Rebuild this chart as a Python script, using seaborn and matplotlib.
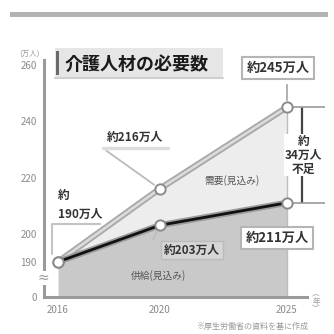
import matplotlib
matplotlib.use("Agg")
import matplotlib.pyplot as plt
import seaborn as sns
import pandas as pd
from matplotlib.patches import Rectangle
from matplotlib.lines import Line2D

years = [2016, 2020, 2025]
demand = [190, 216, 245]
supply = [190, 203, 211]
y_ticks = [190, 200, 220, 240, 260]
y_minor = [210, 230, 250]
x_ticks = [2016, 2020, 2025]
title = "介護人材の必要数"
ZERO_POS = 177.5  # where the broken axis shows "0"

sns.set_theme(style="white")
plt.rcParams["font.family"] = ["Noto Sans CJK JP", "DejaVu Sans"]

df = pd.DataFrame({"year": years, "demand": demand, "supply": supply})

W = 334
fig = plt.figure(figsize=(3.34, 3.34), dpi=100)
fig.patch.set_facecolor("white")

def fx(px):
    return px / W

def fy(py):
    return 1 - py / W

ax = fig.add_axes([fx(43.5), fy(297), fx(307 - 43.5), (297 - 60) / W])
ax.set_xlim(2015.43, 2025.79)
ax.set_ylim(ZERO_POS, 261.8)

# areas
ax.fill_between(df["year"], ZERO_POS, df["supply"], color="#c9c9c9", lw=0, zorder=1)
ax.fill_between(df["year"], df["supply"], df["demand"], color="#ededed", lw=0, zorder=1)
ax.vlines(years[-1], ZERO_POS, demand[-1], color="#bdbdbd", lw=1, zorder=1)

# lines
sns.lineplot(data=df, x="year", y="demand", ax=ax, color="#a9a9a9", lw=4.5, zorder=3)
sns.lineplot(data=df, x="year", y="demand", ax=ax, color="#dcdcdc", lw=1.8, zorder=3)
sns.lineplot(data=df, x="year", y="supply", ax=ax, color="#9a9a9a", lw=4.5, zorder=3)
sns.lineplot(data=df, x="year", y="supply", ax=ax, color="#111111", lw=2.0, zorder=3)
for col in ["demand", "supply"]:
    sns.scatterplot(data=df, x="year", y=col, ax=ax, s=55, color="white",
                    edgecolor="#8a8a8a", linewidth=1.4, zorder=5, legend=False)

# axes styling
for s in ["top", "right"]:
    ax.spines[s].set_visible(False)
for s in ["left", "bottom"]:
    ax.spines[s].set_color("#9a9a9a")
    ax.spines[s].set_linewidth(2.2)
ax.set_xlabel("")
ax.set_ylabel("")
ax.set_yticks([ZERO_POS] + y_ticks)
ax.set_yticklabels(["0"] + [str(v) for v in y_ticks])
ax.set_yticks(y_minor, minor=True)
ax.set_xticks(x_ticks)
ax.set_xticklabels([str(v) for v in x_ticks])
ax.set_xticks(list(range(2016, 2026)), minor=True)
ax.tick_params(axis="both", which="both", direction="inout", color="#9a9a9a",
               width=1.3, labelcolor="#8a8a8a", labelsize=7)
ax.tick_params(axis="both", which="major", length=6)
ax.tick_params(axis="both", which="minor", length=5)
ax.tick_params(axis="y", pad=2)
ax.tick_params(axis="x", pad=3)
ax.grid(False)

# axis break mark
ax.text(2015.43, 184.3, "≈", ha="center", va="center", fontsize=10, color="#9a9a9a",
        family=["DejaVu Sans"], bbox=dict(fc="white", ec="none", pad=0.2), zorder=6,
        clip_on=False)

# units
fig.text(fx(30), fy(54), "(万人)", ha="center", va="center", fontsize=5.5, color="#9a9a9a")
fig.text(fx(316), fy(302), "︵\n年\n︶", ha="center", va="center", fontsize=5.5,
         color="#9a9a9a", linespacing=0.9)
fig.text(fx(253), fy(326), "※厚生労働省の資料を基に作成", ha="center", va="center",
         fontsize=5.8, color="#9a9a9a")

# top decoration bar
fig.add_artist(Rectangle((fx(10), fy(17)), fx(318), 5 / W, transform=fig.transFigure,
                         fc="#b3b3b3", ec="none"))

# title box
fig.add_artist(Rectangle((fx(55), fy(78)), fx(168), 30 / W, transform=fig.transFigure,
                         fc="#e6e6e6", ec="none"))
fig.add_artist(Line2D([fx(55), fx(223)], [fy(78), fy(78)], transform=fig.transFigure,
                      color="#cfcfcf", lw=1.5))
fig.add_artist(Rectangle((fx(56), fy(75)), fx(3), 24 / W, transform=fig.transFigure,
                         fc="#6a6a6a", ec="none"))
fig.text(fx(65), fy(64), title, ha="left", va="center", fontsize=13,
         fontweight="bold", color="#1a1a1a")

lab_kw = dict(ha="center", va="center", color="#333333", fontweight="bold")

# 245 box
ax.annotate("", xy=(years[2], demand[2]), xytext=(fx(287), fy(82)),
            textcoords="figure fraction",
            arrowprops=dict(arrowstyle="-", color="#aaaaaa", lw=1.3, shrinkB=5))
fig.text(fx(278), fy(68), "約245万人", fontsize=9.5,
         bbox=dict(fc="white", ec="#b5b5b5", lw=1.5, boxstyle="square,pad=0.3"), **lab_kw)

# 216 label
fig.add_artist(Line2D([fx(103), fx(168)], [fy(148), fy(148)], transform=fig.transFigure,
                      color="#dddddd", lw=2.5))
ax.annotate("", xy=(years[1], demand[1]), xytext=(fx(104), fy(149)),
            textcoords="figure fraction",
            arrowprops=dict(arrowstyle="-", color="#bbbbbb", lw=1.3, shrinkB=5))
fig.text(fx(135), fy(137), "約216万人", fontsize=8.5, **lab_kw)

# 190 label
fig.add_artist(Line2D([fx(100), fx(52), fx(52)], [fy(224), fy(224), fy(254)],
                      transform=fig.transFigure, color="#c4c4c4", lw=1.5))
fig.text(fx(64), fy(196), "約", fontsize=8.5, **lab_kw)
fig.text(fx(80), fy(214), "190万人", fontsize=8.5, **lab_kw)

# demand / supply area labels
fig.text(fx(232), fy(181), "需要(見込み)", fontsize=7, ha="center", va="center", color="#555555")
fig.text(fx(158), fy(276), "供給(見込み)", fontsize=7, ha="center", va="center", color="#555555")

# 203 label
ax.annotate("", xy=(years[1], supply[1]), xytext=(fx(152), fy(242)),
            textcoords="figure fraction",
            arrowprops=dict(arrowstyle="-", color="#bbbbbb", lw=1.2, shrinkB=5))
fig.text(fx(192), fy(250), "約203万人", fontsize=8.5,
         bbox=dict(fc="#d6d6d6", ec="#bbbbbb", lw=1, boxstyle="square,pad=0.25"), **lab_kw)

# 211 box
fig.text(fx(277), fy(238), "約211万人", fontsize=9.5,
         bbox=dict(fc="white", ec="#b5b5b5", lw=1.5, boxstyle="square,pad=0.3"), **lab_kw)

# shortage bracket
xb = 2025.6
ax.vlines(xb, supply[2], demand[2], color="#444444", lw=1.6, clip_on=False, zorder=4)
ax.hlines([supply[2], demand[2]], 2025.25, 2026.5, color="#999999", lw=1.2,
          clip_on=False, zorder=4)
ax.text(xb + 0.05, (supply[2] + demand[2]) / 2, "約\n34万人\n不足", ha="center", va="center",
        fontsize=8.5, color="#333333", fontweight="bold", linespacing=1.1,
        bbox=dict(fc="white", ec="none", pad=0.5), clip_on=False, zorder=5)

fig.savefig("out.png", dpi=100, facecolor="white")
